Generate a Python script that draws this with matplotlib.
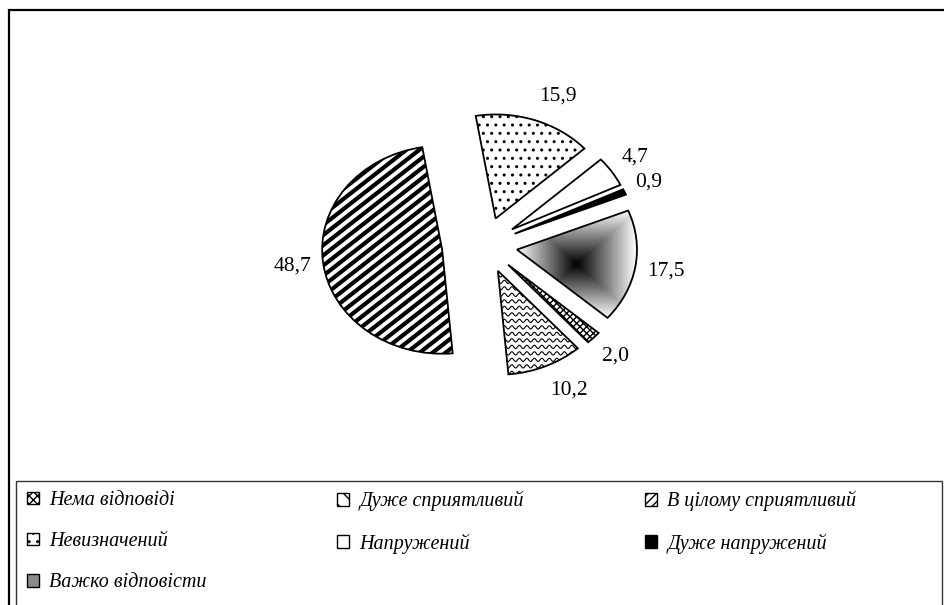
import numpy as np
import matplotlib.pyplot as plt
from matplotlib.patches import Rectangle, Patch
from matplotlib.collections import LineCollection
from matplotlib.transforms import IdentityTransform

categories = ['Нема відповіді', 'Дуже сприятливий', 'В цілому сприятливий',
              'Невизначений', 'Напружений', 'Дуже напружений', 'Важко відповісти']
values = [2.0, 10.2, 48.7, 15.9, 4.7, 0.9, 17.5]
value_labels = ['2,0', '10,2', '48,7', '15,9', '4,7', '0,9', '17,5']

W, H = 944, 605
fig = plt.figure(figsize=(W / 100, H / 100), dpi=100)
ax = fig.add_axes([0, 0, 1, 1])

# centre of the pie in pixels and the (slightly stretched) radius
cx, cy, rx, ry = 485, 245, 120, 104

explode = [0.27, 0.27, 0.36, 0.27, 0.27, 0.27, 0.27]
faces = ['white', 'none', 'none', 'white', 'white', 'black', 'none']
wedges, _ = ax.pie(values, explode=explode, colors=faces, startangle=-41,
                   counterclock=False,
                   wedgeprops=dict(edgecolor='black', linewidth=1.3))
wedges[0].set_hatch('xxxxx')
wedges[3].set_hatch('..')

xlim = (-cx / rx, (W - cx) / rx)
ylim = (-(H - cy) / ry, cy / ry)
ax.set_aspect('auto')
ax.set_xlim(*xlim)
ax.set_ylim(*ylim)
ax.axis('off')


def bbox_px(w):
    return w.get_path().get_extents(w.get_transform())


def stripes(w, ang, step, lw):
    bb = bbox_px(w)
    mx, my = (bb.x0 + bb.x1) / 2, (bb.y0 + bb.y1) / 2
    L = np.hypot(bb.width, bb.height)
    a = np.radians(ang)
    d = np.array([np.cos(a), np.sin(a)])
    n = np.array([-np.sin(a), np.cos(a)])
    segs = []
    for k in np.arange(-L, L, step):
        p = np.array([mx, my]) + k * n
        segs.append([p - L * d, p + L * d])
    lc = LineCollection(segs, colors='black', linewidths=lw,
                        transform=IdentityTransform(), zorder=0.5)
    ax.add_collection(lc, autolim=False)
    lc.set_clip_path(w)


def waves(w, step, wl, amp, lw):
    bb = bbox_px(w)
    xs = np.linspace(bb.x0 - 5, bb.x1 + 5, 400)
    segs = []
    for y0 in np.arange(bb.y0 - 5, bb.y1 + 5, step):
        segs.append(np.column_stack([xs, y0 + amp * np.sin(2 * np.pi * xs / wl)]))
    lc = LineCollection(segs, colors='black', linewidths=lw,
                        transform=IdentityTransform(), zorder=0.5)
    ax.add_collection(lc, autolim=False)
    lc.set_clip_path(w)


waves(wedges[1], 6.5, 7.5, 1.6, 0.8)
stripes(wedges[2], 38, 8.0, 3.0)

# square "from centre" gradient for the last slice
g = wedges[6]
gb = g.get_path().get_extents()
u = np.linspace(-1, 1, 300)
U, V = np.meshgrid(u, u)
Z = np.maximum(np.abs(U), np.abs(V))
im = ax.imshow(Z, extent=(gb.x0, gb.x1, gb.y0, gb.y1), cmap='gray',
               vmin=0, vmax=1, aspect='auto', zorder=0.5, interpolation='bilinear')
im.set_clip_path(g)

ax.set_aspect('auto')
ax.set_xlim(*xlim)
ax.set_ylim(*ylim)

# value labels just outside the arc, like Excel's "outside end"
for w, lab in zip(wedges, value_labels):
    m = np.radians((w.theta1 + w.theta2) / 2)
    x = w.center[0] + 1.1 * w.r * np.cos(m)
    y = w.center[1] + 1.1 * w.r * np.sin(m)
    ax.annotate(lab, (x, y), xytext=(0, 11 * np.sin(m)), textcoords='offset points',
                ha='left' if np.cos(m) > 0 else 'right', va='center',
                fontsize=15.5, family='Liberation Serif')

# outer chart border and legend box
fig.patches.append(Rectangle((9 / W, -0.2), 1.5, 1.2 - 10 / H, transform=fig.transFigure,
                             fill=False, edgecolor='black', linewidth=1.6))
fig.patches.append(Rectangle((16 / W, -0.2), (942 - 16) / W, 0.2 + 1 - 481 / H,
                             transform=fig.transFigure, fill=False,
                             edgecolor='#333333', linewidth=1.0))

handles = [Patch(facecolor='white', edgecolor='black', hatch='xxxx'),
           Patch(facecolor='white', edgecolor='black', hatch='\\\\'),
           Patch(facecolor='white', edgecolor='black', hatch='////'),
           Patch(facecolor='white', edgecolor='black', hatch='..'),
           Patch(facecolor='white', edgecolor='black'),
           Patch(facecolor='black', edgecolor='black'),
           Patch(facecolor='#8c8c8c', edgecolor='black')]

font = dict(family='Liberation Serif', style='italic', size=14.5)
cols = [[0, 3, 6], [1, 4], [2, 5]]
col_x = [27, 337, 645]
for idx, x0 in zip(cols, col_x):
    fig.legend([handles[i] for i in idx], [categories[i] for i in idx],
               loc='upper left', bbox_to_anchor=(x0 / W, 1 - 491 / H),
               frameon=False, borderpad=0, borderaxespad=0,
               handlelength=0.6, handleheight=0.6, handletextpad=0.5,
               labelspacing=1.1, prop=font)

fig.savefig('out.png', dpi=100)
